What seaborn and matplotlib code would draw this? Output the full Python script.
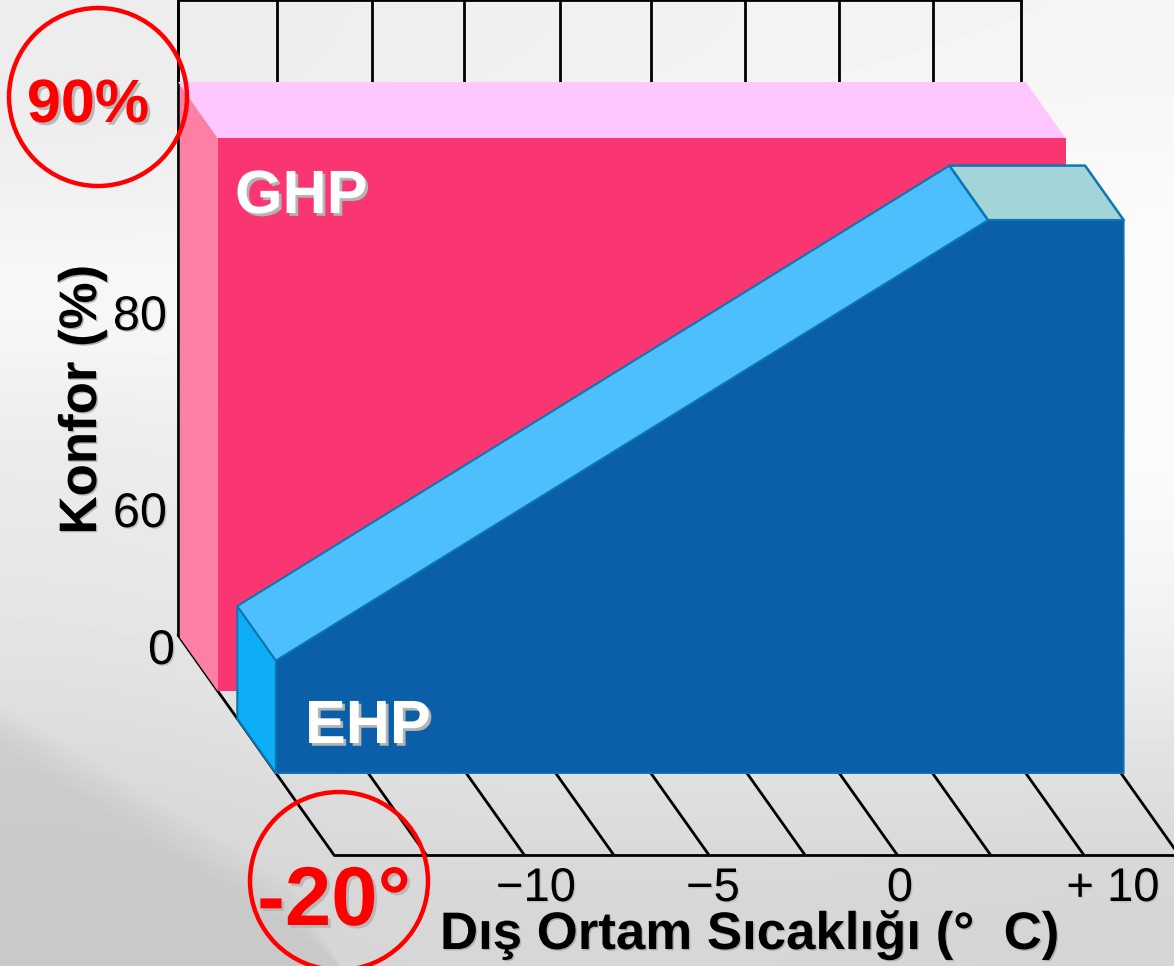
import numpy as np
import pandas as pd
import matplotlib
matplotlib.use('Agg')
import matplotlib.pyplot as plt
import matplotlib.patheffects as pe
from matplotlib.patches import Circle
import seaborn as sns

# temperature labels sit on an uneven axis, so each stop has its own grid position
temp_stops = [-20, -10, -5, 0, 10, 15]
temp_grid_pos = [0, 2, 4, 6, 8, 9]
temp_tick_labels = ['\u221210', '\u22125', '0', '+ 10']

comfort_stops = [0, 60, 80, 90, 100]
comfort_heights = [0, 125, 322, 553, 635]
comfort_tick_labels = ['0', '60', '80']

ghp_temp = [-20, 15]
ghp_comfort = [90, 90]
ehp_temp = [-20, 7.8, 15]
ehp_comfort = [54, 90, 90]

wall_grid = [0, 1.05, 2.06, 3.04, 4.05, 5.02, 6.02, 7.02, 8.02, 8.95]
floor_grid = [0, 0.98, 2.02, 2.97, 3.98, 5.0, 5.98, 6.97, 7.96, 8.97]

# depth into the floor: 0 at the back wall, 1 at the front edge
GHP_DEPTH = (0, 0.256)
EHP_DEPTH = (0.38, 0.628)


def project(grid, comfort, depth):
    x = 178 + 94.2 * np.asarray(grid, dtype=float) + 156 * depth
    y = 635 + 220 * depth - np.interp(comfort, comfort_stops, comfort_heights)
    return x, y


def at_temp(temp, comfort, depth):
    return project(np.interp(temp, temp_stops, temp_grid_pos), comfort, depth)


def face(ax, pts, color, edge='none', lw=0, z=2):
    xs = [p[0] for p in pts]
    ys = [p[1] for p in pts]
    ax.fill(xs, ys, facecolor=color, edgecolor=edge, linewidth=lw, zorder=z, joinstyle='round')


def shadow(dx=2, color='#b4b4b4'):
    return [pe.withSimplePatchShadow(offset=(dx, -dx), shadow_rgbFace=color, alpha=1)]


sns.set_theme(style='white')
plt.rcParams['font.family'] = ['Liberation Sans', 'DejaVu Sans']

fig = plt.figure(figsize=(11.74, 9.66), dpi=100)
ax = fig.add_axes([0, 0, 1, 1])

# slide background, rough grey wash
wash = np.array([
    [236, 238, 240, 243, 244],
    [238, 240, 245, 248, 250],
    [252, 250, 250, 250, 252],
    [235, 240, 248, 250, 252],
    [232, 235, 240, 245, 248],
    [226, 232, 235, 240, 238],
    [216, 222, 222, 222, 222],
    [212, 214, 214, 214, 212],
], dtype=float)
ax.imshow(wash, cmap='gray', vmin=0, vmax=255, extent=(0, 1174, 966, 0),
          aspect='auto', interpolation='bicubic', zorder=0)
# darker band lower left, stacked so its edge stays soft
for off in range(0, 48, 8):
    ax.fill([0, 290, 340, 0], [705 + off, 885 + off, 966, 966], facecolor='#808080', alpha=0.025,
            edgecolor='none', zorder=0.5)

# wall and floor grid
lines = []
for i, g in enumerate(wall_grid):
    lines.append(('wall%d' % i, project(g, 90, 0), project(g, 100, 0)))
for i, g in enumerate(floor_grid):
    d0 = 0 if i == 0 else EHP_DEPTH[1]
    lines.append(('floor%d' % i, project(g, 0, d0), project(g, 0, 1)))
lines.append(('left', project(0, 0, 0), project(0, 100, 0)))
lines.append(('top', project(0, 100, 0), project(wall_grid[-1], 100, 0)))
lines.append(('front', project(0, 0, 1), project(9.2, 0, 1)))
rows = []
for name, a, b in lines:
    rows += [(name, float(a[0]), float(a[1])), (name, float(b[0]), float(b[1]))]
grid_df = pd.DataFrame(rows, columns=['name', 'x', 'y'])
sns.lineplot(data=grid_df, x='x', y='y', units='name', estimator=None, sort=False,
             color='black', linewidth=2, ax=ax, zorder=1, legend=False)
ax.set_xlim(0, 1174)
ax.set_ylim(966, 0)
ax.axis('off')

# GHP block
t0, t1 = ghp_temp
c = ghp_comfort[0]
back, frnt = GHP_DEPTH
face(ax, [at_temp(t0, 0, back + 0.012), at_temp(t0, c, back + 0.012), at_temp(t0, c, frnt), at_temp(t0, 0, frnt)], '#fb80a3')
face(ax, [at_temp(t0, c, back), at_temp(t1, c, back), at_temp(t1, c, frnt), at_temp(t0, c, frnt)], '#ffc6ff')
face(ax, [at_temp(t0, 0, frnt), at_temp(t0, c, frnt), at_temp(t1, c, frnt), at_temp(t1, 0, frnt)], '#f93572')

# EHP block
back, frnt = EHP_DEPTH
edge = '#0b78b2'
a, k, e = ehp_temp
ca, ck, ce = ehp_comfort
face(ax, [at_temp(a, 0, back), at_temp(a, ca, back), at_temp(a, ca, frnt), at_temp(a, 0, frnt)], '#0dadf8', edge, 1.5, 3)
face(ax, [at_temp(a, ca, back), at_temp(k, ck, back), at_temp(k, ck, frnt), at_temp(a, ca, frnt)], '#4dbffd', edge, 1.5, 3)
face(ax, [at_temp(k, ck, back), at_temp(e, ce, back), at_temp(e, ce, frnt), at_temp(k, ck, frnt)], '#a3d4d8', edge, 1.8, 3)
xs, ys = at_temp(np.array(ehp_temp), np.array(ehp_comfort), frnt)
ax.fill(np.r_[xs, xs[-1], xs[0]], np.r_[ys, project(9, 0, frnt)[1], project(0, 0, frnt)[1]],
        facecolor='#0a5fa8', edgecolor=edge, linewidth=1.2, zorder=4)

# labels inside blocks
ax.text(235, 213, 'GHP', color='white', fontsize=44, fontweight='bold', va='baseline',
        zorder=6, path_effects=shadow())
ax.text(305, 743, 'EHP', color='white', fontsize=44, fontweight='bold', va='baseline',
        zorder=6, path_effects=shadow())

# tick labels
for label, (tx, ty) in zip(comfort_tick_labels, [(175, 664), (167, 527), (167, 330)]):
    ax.text(tx, ty, label, color='black', fontsize=35, ha='right', va='baseline',
            zorder=6, path_effects=shadow(1, '#c0c0c0'))
for label, tx in zip(temp_tick_labels, [536, 713, 900, 1113]):
    ax.text(tx, 901, label, color='black', fontsize=34, ha='center', va='baseline',
            zorder=6, path_effects=shadow(1, '#c0c0c0'))

ax.text(82, 400, 'Konfor (%)', color='black', fontsize=38, fontweight='bold',
        rotation=90, ha='center', va='center', zorder=6, path_effects=shadow(1, '#b0b0b0'))
ax.text(749, 949, 'D\u0131\u015f Ortam S\u0131cakl\u0131\u011f\u0131 (\u00b0  C)', color='black',
        fontsize=38, fontweight='bold', ha='center', va='baseline', zorder=6,
        path_effects=shadow(1, '#b0b0b0'))

# red call-outs
ax.add_patch(Circle((98, 97), 89, fill=False, edgecolor='#fe0000', linewidth=3.2, zorder=7))
ax.add_patch(Circle((339, 881), 89, fill=False, edgecolor='#fe0000', linewidth=3.2, zorder=7))
ax.text(88, 122, '90%', color='#fe0000', fontsize=44, fontweight='bold', ha='center', va='baseline',
        zorder=8, path_effects=shadow(2, '#b8b8b8'))
ax.text(334, 925, '-20\u00b0', color='#fe0000', fontsize=60, fontweight='bold', ha='center', va='baseline',
        zorder=8, path_effects=shadow(2, '#b8b8b8'))

fig.savefig('out.png', dpi=100)
